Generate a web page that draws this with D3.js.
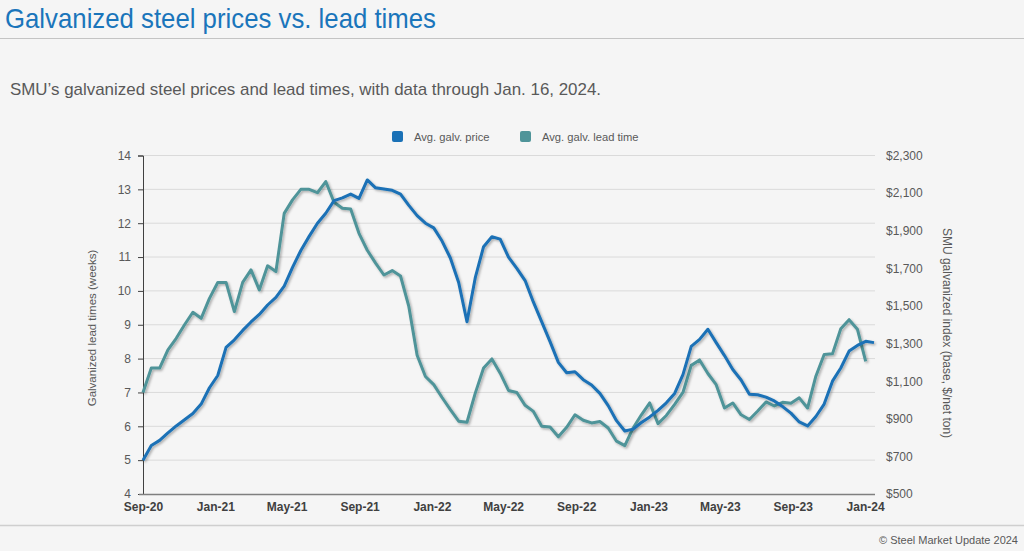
<!DOCTYPE html>
<html>
<head>
<meta charset="utf-8">
<script src="https://cdn.jsdelivr.net/npm/d3@7"></script>
<style>
  body { margin: 0; background: #f5f5f5; }
  svg { display: block; font-family: "Liberation Sans", Arial, sans-serif; }
</style>
</head>
<body>
<svg id="viz" width="1024" height="551"></svg>
<script>
// survey dates (every two weeks)
var dates = [
  "2020-09-01","2020-09-15","2020-09-29","2020-10-13","2020-10-27","2020-11-10","2020-11-24","2020-12-08","2020-12-22",
  "2021-01-05","2021-01-19","2021-02-02","2021-02-16","2021-03-02","2021-03-16","2021-03-30","2021-04-13","2021-04-27",
  "2021-05-11","2021-05-25","2021-06-08","2021-06-22","2021-07-06","2021-07-20","2021-08-03","2021-08-17","2021-08-31",
  "2021-09-14","2021-09-28","2021-10-12","2021-10-26","2021-11-09","2021-11-23","2021-12-07","2021-12-21",
  "2022-01-04","2022-01-18","2022-02-01","2022-02-15","2022-03-01","2022-03-15","2022-03-29","2022-04-12","2022-04-26",
  "2022-05-10","2022-05-24","2022-06-07","2022-06-21","2022-07-05","2022-07-19","2022-08-02","2022-08-16","2022-08-30",
  "2022-09-13","2022-09-27","2022-10-11","2022-10-25","2022-11-08","2022-11-22","2022-12-06","2022-12-20",
  "2023-01-03","2023-01-17","2023-01-31","2023-02-14","2023-02-28","2023-03-14","2023-03-28","2023-04-11","2023-04-25",
  "2023-05-09","2023-05-23","2023-06-06","2023-06-20","2023-07-04","2023-07-18","2023-08-01","2023-08-15","2023-08-29",
  "2023-09-12","2023-09-26","2023-10-10","2023-10-24","2023-11-07","2023-11-21","2023-12-05","2023-12-19",
  "2024-01-02","2024-01-16"
];

// avg. galv. price, $/net ton
var price = [
  680, 758, 785, 825, 862, 895, 928, 978, 1065, 1130,
  1280, 1320, 1370, 1415, 1455, 1505, 1545, 1605, 1705, 1795,
  1870, 1940, 1993, 2060, 2075, 2095, 2072, 2170, 2128, 2122,
  2115, 2095, 2035, 1980, 1940, 1915, 1845, 1755, 1625, 1416,
  1650, 1815, 1868, 1855, 1760, 1700, 1635, 1520, 1415, 1310,
  1200, 1145, 1150, 1108, 1080, 1035, 970, 890, 835, 845,
  880, 910, 945, 985, 1035, 1135, 1285, 1322, 1376, 1305,
  1236, 1162, 1106, 1031, 1028, 1015, 995, 965, 930, 883,
  862, 912, 978, 1100, 1170, 1260, 1290, 1312, 1305
];

// avg. galv. lead time, weeks
var lead = [
  7.0, 7.72, 7.72, 8.26, 8.6, 9.0, 9.37, 9.19, 9.78, 10.25,
  10.25, 9.39, 10.25, 10.62, 10.03, 10.74, 10.57, 12.29, 12.69, 13.0,
  13.0, 12.9, 13.23, 12.62, 12.44, 12.42, 11.7, 11.2, 10.82, 10.47,
  10.6, 10.44, 9.54, 8.1, 7.47, 7.23, 6.85, 6.49, 6.15, 6.12,
  6.98, 7.72, 7.99, 7.57, 7.06, 7.0, 6.62, 6.44, 6.0, 5.98,
  5.69, 5.97, 6.34, 6.18, 6.1, 6.14, 5.95, 5.56, 5.43, 5.95,
  6.34, 6.69, 6.08, 6.32, 6.65, 7.0, 7.8, 7.96, 7.56, 7.23,
  6.54, 6.69, 6.34, 6.2, 6.45, 6.72, 6.6, 6.71, 6.68, 6.84,
  6.54, 7.48, 8.12, 8.14, 8.88, 9.15, 8.87, 7.92, null
];

var xTicks = ["2020-09-01","2021-01-01","2021-05-01","2021-09-01","2022-01-01","2022-05-01",
              "2022-09-01","2023-01-01","2023-05-01","2023-09-01","2024-01-01"];
var leadTicks = [4, 5, 6, 7, 8, 9, 10, 11, 12, 13, 14];
var priceTicks = [500, 700, 900, 1100, 1300, 1500, 1700, 1900, 2100, 2300];

var blue = "#1a71b6";
var teal = "#4f9499";
var grey = "#595959";

var parse = d3.timeParse("%Y-%m-%d");
var data = dates.map(function(d, i) { return {date: parse(d), price: price[i], lead: lead[i]}; });

var svg = d3.select("#viz");

var x = d3.scaleTime().domain([parse("2020-09-01"), parse("2024-01-16")]).range([143, 874]);
var yLead = d3.scaleLinear().domain([4, 14]).range([494, 155.5]);
var yPrice = d3.scaleLinear().domain([500, 2300]).range([494, 155.5]);

// header
svg.append("text").attr("x", 5).attr("y", 28)
  .attr("font-size", 28).attr("fill", "#1a75bb")
  .attr("textLength", 431).attr("lengthAdjust", "spacingAndGlyphs")
  .text("Galvanized steel prices vs. lead times");
svg.append("line").attr("x1", 0).attr("x2", 1024).attr("y1", 38.5).attr("y2", 38.5)
  .attr("stroke", "#c4c4c4").attr("stroke-width", 1);
svg.append("text").attr("x", 10).attr("y", 95)
  .attr("font-size", 16.6).attr("fill", grey)
  .attr("textLength", 591).attr("lengthAdjust", "spacingAndGlyphs")
  .text("SMU\u2019s galvanized steel prices and lead times, with data through Jan. 16, 2024.");

// legend
var legend = [{name: "Avg. galv. price", color: blue, x: 392}, {name: "Avg. galv. lead time", color: teal, x: 520}];
var lg = svg.selectAll(".legend").data(legend).enter().append("g")
  .attr("transform", function(d) { return "translate(" + d.x + ",131)"; });
lg.append("rect").attr("width", 11).attr("height", 11).attr("rx", 2).attr("fill", function(d) { return d.color; });
lg.append("text").attr("x", 22).attr("y", 10).attr("font-size", 11.2).attr("fill", grey)
  .text(function(d) { return d.name; });

// gridlines
svg.append("g").selectAll("line").data(leadTicks.slice(1)).enter().append("line")
  .attr("x1", 143).attr("x2", 875)
  .attr("y1", function(d) { return yLead(d); }).attr("y2", function(d) { return yLead(d); })
  .attr("stroke", "#dadada").attr("stroke-width", 1);

// left axis
var leftAxis = svg.append("g").attr("transform", "translate(143,0)")
  .call(d3.axisLeft(yLead).tickValues(leadTicks).tickSize(5).tickPadding(7));
leftAxis.select(".domain").attr("stroke", "#404040");
leftAxis.selectAll(".tick line").attr("stroke", "#404040");
leftAxis.selectAll("text").attr("font-size", 12).attr("fill", grey).attr("font-family", null);

// right axis (labels only)
var rightAxis = svg.append("g").attr("transform", "translate(875,0)")
  .call(d3.axisRight(yPrice).tickValues(priceTicks).tickSize(0).tickPadding(11).tickFormat(d3.format("$,")));
rightAxis.select(".domain").remove();
rightAxis.selectAll("text").attr("font-size", 12).attr("fill", grey).attr("font-family", null);

// bottom axis
var bottomAxis = svg.append("g").attr("transform", "translate(0,494)")
  .call(d3.axisBottom(x).tickValues(xTicks.map(parse)).tickSize(0).tickPadding(8).tickFormat(d3.timeFormat("%b-%y")));
bottomAxis.select(".domain").remove();
bottomAxis.selectAll("text").attr("font-size", 12).attr("font-weight", "bold").attr("fill", "#404040").attr("font-family", null);
svg.append("line").attr("x1", 139).attr("x2", 875).attr("y1", 494.5).attr("y2", 494.5)
  .attr("stroke", "#7f7f7f").attr("stroke-width", 1.5);

// axis titles
svg.append("text").attr("transform", "translate(96,328) rotate(-90)")
  .attr("text-anchor", "middle").attr("font-size", 11.5).attr("fill", grey)
  .text("Galvanized lead times (weeks)");
svg.append("text").attr("transform", "translate(943,333) rotate(90)")
  .attr("text-anchor", "middle").attr("font-size", 12).attr("fill", grey)
  .text("SMU galvanized index (base, $/net ton)");

// shadow for the lines
var defs = svg.append("defs");
defs.append("filter").attr("id", "shadow").attr("x", "-5%").attr("y", "-5%").attr("width", "110%").attr("height", "110%")
  .append("feDropShadow").attr("dx", 1.5).attr("dy", 1.5).attr("stdDeviation", 1)
  .attr("flood-color", "#000").attr("flood-opacity", 0.3);

var leadLine = d3.line()
  .defined(function(d) { return d.lead != null; })
  .x(function(d) { return x(d.date); })
  .y(function(d) { return yLead(d.lead); });

var priceLine = d3.line()
  .x(function(d) { return x(d.date); })
  .y(function(d) { return yPrice(d.price); });

svg.append("path").datum(data).attr("d", leadLine)
  .attr("fill", "none").attr("stroke", teal).attr("stroke-width", 3)
  .attr("stroke-linejoin", "round").attr("filter", "url(#shadow)");
svg.append("path").datum(data).attr("d", priceLine)
  .attr("fill", "none").attr("stroke", blue).attr("stroke-width", 3)
  .attr("stroke-linejoin", "round").attr("filter", "url(#shadow)");

// footer
svg.append("line").attr("x1", 0).attr("x2", 1024).attr("y1", 525.5).attr("y2", 525.5)
  .attr("stroke", "#cfcfcf").attr("stroke-width", 1.5);
svg.append("text").attr("x", 1018).attr("y", 544).attr("text-anchor", "end")
  .attr("font-size", 11).attr("fill", grey)
  .text("\u00a9 Steel Market Update 2024");
</script>
</body>
</html>
